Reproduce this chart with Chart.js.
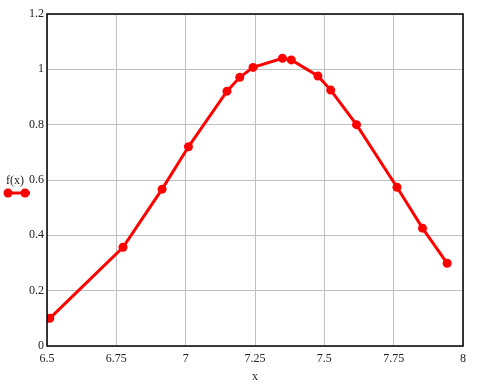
<!DOCTYPE html>
<html>
<head>
<meta charset="utf-8">
<script src="https://cdn.jsdelivr.net/npm/chart.js@4/dist/chart.umd.min.js"></script>
<style>
  html, body { margin: 0; padding: 0; background: #fff; }
  #wrap { width: 483px; height: 385px; }
</style>
</head>
<body>
<div id="wrap"><canvas id="fxChart"></canvas></div>
<script>
const xValues = [6.51, 6.774, 6.915, 7.01, 7.149, 7.195, 7.243, 7.349, 7.381, 7.477, 7.523, 7.616, 7.762, 7.854, 7.943];
const fValues = [0.10, 0.357, 0.567, 0.72, 0.921, 0.971, 1.007, 1.04, 1.034, 0.976, 0.925, 0.80, 0.574, 0.426, 0.299];
const seriesLabel = 'f(x)';
const xTitle = 'x';

const lineColor = '#ff0000';
const textColor = '#222';
const fontFamily = '"Liberation Serif", "Times New Roman", serif';

// plain number labels: 6.75, 7, 1, 1.2 ...
const plainTick = value => String(Number(value.toFixed(4)));

// frame around the plot + the little legend on the left
const framePlugin = {
    id: 'frame',
    afterDraw(chart) {
        const { ctx, chartArea: a } = chart;
        ctx.save();
        ctx.strokeStyle = '#000';
        ctx.lineWidth = 1.5;
        ctx.strokeRect(a.left, a.top, a.right - a.left, a.bottom - a.top);

        // legend
        ctx.fillStyle = textColor;
        ctx.font = '12px ' + fontFamily;
        ctx.textBaseline = 'middle';
        ctx.textAlign = 'left';
        ctx.fillText(seriesLabel, 6, 181);

        ctx.strokeStyle = lineColor;
        ctx.lineWidth = 3;
        ctx.beginPath();
        ctx.moveTo(4, 193);
        ctx.lineTo(30, 193);
        ctx.stroke();
        ctx.fillStyle = lineColor;
        [8, 25].forEach(px => {
            ctx.beginPath();
            ctx.arc(px, 193, 4.5, 0, Math.PI * 2);
            ctx.fill();
        });
        ctx.restore();
    }
};

const ctx = document.getElementById('fxChart').getContext('2d');
new Chart(ctx, {
    type: 'scatter',
    data: {
        datasets: [{
            label: seriesLabel,
            data: xValues.map((x, i) => ({ x: x, y: fValues[i] })),
            showLine: true,
            borderColor: lineColor,
            backgroundColor: lineColor,
            borderWidth: 3,
            pointRadius: 4.5,
            pointHoverRadius: 4.5,
            pointBorderWidth: 0,
            tension: 0
        }]
    },
    options: {
        responsive: true,
        maintainAspectRatio: false,
        animation: false,
        layout: { padding: { left: 0, top: 14, right: 20, bottom: 0 } },
        plugins: {
            legend: { display: false },
            tooltip: { enabled: false }
        },
        scales: {
            x: {
                type: 'linear',
                min: 6.5,
                max: 8,
                afterFit(scale) { scale.height = 39; },
                ticks: {
                    stepSize: 0.25,
                    padding: 6,
                    color: textColor,
                    font: { family: fontFamily, size: 12 },
                    maxRotation: 0,
                    callback: plainTick
                },
                grid: { color: '#c0c0c0', lineWidth: 1, drawTicks: false },
                border: { display: false },
                title: {
                    display: true,
                    text: xTitle,
                    color: textColor,
                    font: { family: fontFamily, size: 12 },
                    padding: { top: 0, bottom: 1 }
                }
            },
            y: {
                min: 0,
                max: 1.2,
                afterFit(scale) { scale.width = 47; },
                ticks: {
                    stepSize: 0.2,
                    padding: 3,
                    color: textColor,
                    font: { family: fontFamily, size: 12 },
                    callback: plainTick
                },
                grid: { color: '#c0c0c0', lineWidth: 1, drawTicks: false },
                border: { display: false }
            }
        }
    },
    plugins: [framePlugin]
});
</script>
</body>
</html>
